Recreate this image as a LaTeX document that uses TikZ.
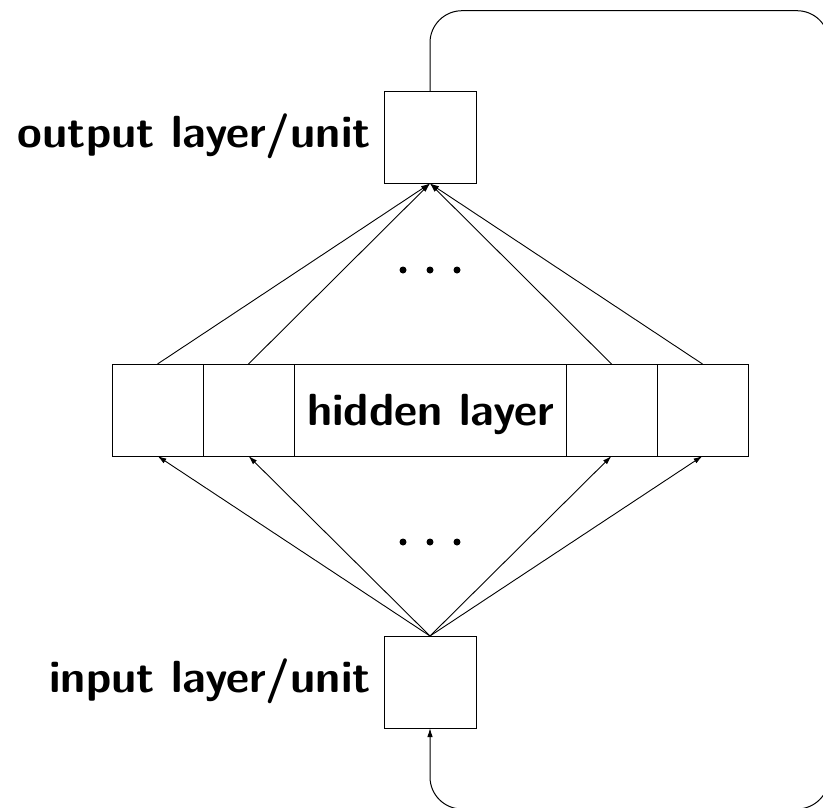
\documentclass[tikz,border=0pt]{standalone}
\usepackage{fontspec}
\usetikzlibrary{arrows.meta}

\tikzset{
  unitbox/.style={draw, line width=1pt, inner sep=0pt, outer sep=0pt,
                  minimum width=92pt, minimum height=92pt},
  cellbox/.style={draw, line width=1pt, inner sep=0pt, outer sep=0pt,
                  minimum width=91pt, minimum height=92pt},
  conn/.style={line width=0.9pt, -{Latex[length=9pt,width=5.5pt]}},
  lbl/.style={font=\fontsize{45}{54}\selectfont\sffamily\bfseries, inner sep=0pt},
  dotmark/.style={fill=black, circle, inner sep=0pt, minimum size=7pt},
}

\begin{document}
\begin{tikzpicture}[x=1pt, y=-1pt]
  \useasboundingbox (0,0) rectangle (823,807);

  % output and input units
  \node[unitbox] (out) at (430,137.5) {};
  \node[unitbox] (in)  at (430,682) {};

  % hidden layer: four unit cells around a wide labelled block
  \node[cellbox] (h1) at (157.5,410) {};
  \node[cellbox] (h2) at (248.5,410) {};
  \node[cellbox, minimum width=272pt] (hmid) at (430,410) {};
  \node[cellbox] (h3) at (611.5,410) {};
  \node[cellbox] (h4) at (702.5,410) {};
  \node[lbl, anchor=base] (hlbl) at (430.5,425) {hidden layer};

  % labels
  \node[lbl, anchor=base east] (outlbl) at (371,147) {output layer/unit};
  \node[lbl, anchor=base east] (inlbl)  at (371,692) {input layer/unit};

  % input -> hidden
  \foreach \h in {h1,h2,h3,h4} {
    \draw[conn] (in.north) -- (\h.south);
  }
  % hidden -> output
  \foreach \h in {h1,h2,h3,h4} {
    \draw[conn] (\h.north) -- (out.south);
  }

  % ellipsis dots
  \foreach \x [count=\i] in {403,430,457} {
    \node[dotmark] (du\i) at (\x,270) {};
    \node[dotmark] (dl\i) at (\x,542) {};
  }

  % recurrent loop from output back to input
  \coordinate (c1) at (430,10.7);
  \coordinate (c2) at (829,10.7);
  \coordinate (c3) at (829,809);
  \coordinate (c4) at (430,809);
  \draw[conn, line width=1pt, rounded corners=32pt]
    (out.north) -- (c1) -- (c2) -- (c3) -- (c4) -- (in.south);
\end{tikzpicture}
\end{document}
